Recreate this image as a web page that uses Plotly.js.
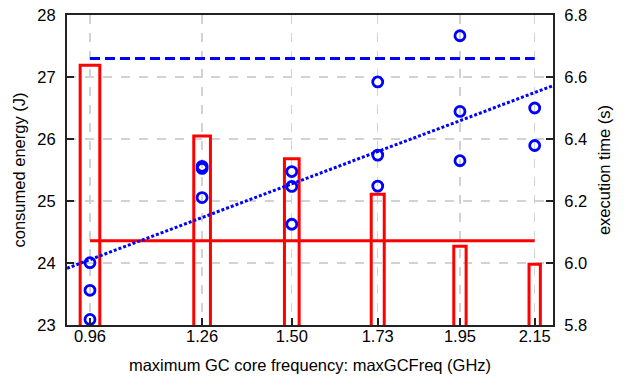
<!DOCTYPE html>
<html>
<head>
<meta charset="utf-8">
<script src="https://cdn.plot.ly/plotly-3.0.1.min.js"></script>
<style>
  html, body { margin: 0; padding: 0; background: #fff; }
  #chart { width: 625px; height: 381px; }
</style>
</head>
<body>
<div id="chart"></div>
<script>
// ---- data ----
const freqs = [0.96, 1.26, 1.50, 1.73, 1.95, 2.15];
const freqLabels = ["0.96", "1.26", "1.50", "1.73", "1.95", "2.15"];
const energy = [27.19, 26.05, 25.68, 25.11, 24.27, 23.98];          // bars, left axis (J)
const barWidthGHz = [0.0525, 0.0446, 0.0393, 0.0348, 0.0330, 0.0303];
const timeFreq = [0.96, 0.96, 0.96, 1.26, 1.26, 1.26, 1.50, 1.50, 1.50,
                  1.73, 1.73, 1.73, 1.95, 1.95, 1.95, 2.15, 2.15];
const timeValues = [6.001, 5.912, 5.818, 6.312, 6.305, 6.211, 6.295, 6.247, 6.125,
                    6.584, 6.348, 6.248, 6.733, 6.489, 6.330, 6.500, 6.379]; // circles, right axis (s)
const energyRefLine = 24.36;   // red solid horizontal line (J)
const timeRefLine = 6.66;      // blue dashed horizontal line (s)
const fitIntercept = 5.576;    // blue dotted trend line (s)
const fitSlope = 0.4529;       // s per GHz
const energyTicks = [23, 24, 25, 26, 27, 28];
const timeTicks = [5.8, 6.0, 6.2, 6.4, 6.6, 6.8];

const xRange = [0.8985, 2.199];
const font = { family: "Liberation Sans, Arial, Helvetica, sans-serif", size: 16.5, color: "#000" };

const traces = [
  {
    type: "bar", x: freqs, y: energy, width: barWidthGHz, yaxis: "y",
    marker: { color: "rgba(0,0,0,0)", line: { color: "#ff0000", width: 3 } },
    hoverinfo: "skip"
  },
  {
    type: "scatter", mode: "lines", yaxis: "y",
    x: [freqs[0], freqs[freqs.length - 1]], y: [energyRefLine, energyRefLine],
    line: { color: "#ff0000", width: 3 }
  },
  {
    type: "scatter", mode: "lines", yaxis: "y2",
    x: [freqs[0], freqs[freqs.length - 1]], y: [timeRefLine, timeRefLine],
    line: { color: "#0000ff", width: 3, dash: "10px,5px" }
  },
  {
    type: "scatter", mode: "lines", yaxis: "y2",
    x: xRange, y: xRange.map(f => fitIntercept + fitSlope * f),
    line: { color: "#0000ff", width: 3, dash: "3px,2px" }
  },
  {
    type: "scatter", mode: "markers", yaxis: "y2",
    x: timeFreq, y: timeValues, cliponaxis: false,
    marker: { symbol: "circle-open", size: 10, color: "#0000ff", line: { color: "#0000ff", width: 2.8 } }
  }
];

const axisCommon = {
  showline: true, linecolor: "#222", linewidth: 2,
  ticks: "inside", ticklen: 7, tickwidth: 2, tickcolor: "#222",
  zeroline: false, tickfont: font
};

const layout = {
  width: 625, height: 381,
  margin: { l: 67, r: 72, t: 15, b: 56, pad: 0 },
  paper_bgcolor: "#fff", plot_bgcolor: "#fff",
  showlegend: false, barmode: "overlay",
  font: font,
  xaxis: Object.assign({}, axisCommon, {
    range: xRange, tickmode: "array", tickvals: freqs, ticktext: freqLabels,
    mirror: true, ticklabelstandoff: -5,
    showgrid: true, gridcolor: "#d2d2d2", gridwidth: 1.3, griddash: "dash",
    title: { text: "maximum GC core frequency: maxGCFreq (GHz)", font: font, standoff: 16 }
  }),
  yaxis: Object.assign({}, axisCommon, {
    range: [23, 28], tickmode: "array", tickvals: energyTicks, ticktext: energyTicks.map(String),
    ticklabelstandoff: 6,
    showgrid: true, gridcolor: "#d2d2d2", gridwidth: 1.3, griddash: "dash",
    title: { text: "consumed energy (J)", font: font, standoff: 8 }
  }),
  yaxis2: Object.assign({}, axisCommon, {
    range: [5.8, 6.8], tickmode: "array", tickvals: timeTicks, ticktext: timeTicks.map(v => v.toFixed(1)),
    overlaying: "y", side: "right", showgrid: false, ticklabelstandoff: 6,
    title: { text: "execution time (s)", font: font, standoff: 12 }
  })
};

Plotly.newPlot("chart", traces, layout, { displayModeBar: false, staticPlot: true });
</script>
</body>
</html>
